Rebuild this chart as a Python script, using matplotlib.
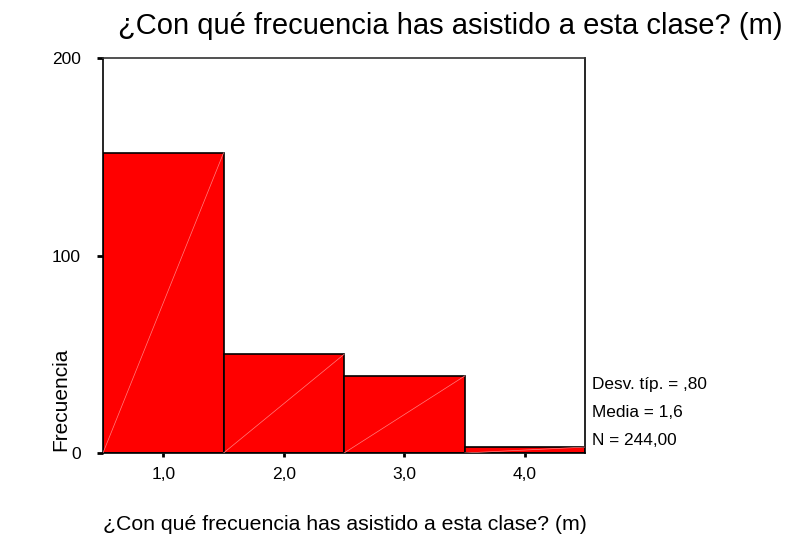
import numpy as np
import matplotlib.pyplot as plt

plt.rcParams['font.family'] = ['Liberation Sans', 'DejaVu Sans']

# datos del histograma
categorias = [1, 2, 3, 4]
frecuencias = [152, 50, 39, 3]
etiquetas_x = ['1,0', '2,0', '3,0', '4,0']
ticks_y = [0, 100, 200]
estadisticos = ['Desv. típ. = ,80', 'Media = 1,6', 'N = 244,00']

titulo = '¿Con qué frecuencia has asistido a esta clase? (m)'

fig = plt.figure(figsize=(7.92, 5.38), dpi=100)
ax = fig.add_axes([0.130, 0.158, 0.609, 0.734])

ax.bar(categorias, frecuencias, width=1.0, color='#ff0000',
       edgecolor='black', linewidth=1.2, zorder=2)

# lineas diagonales tipo SPSS dentro de las barras
for c, f in zip(categorias, frecuencias):
    ax.plot([c - 0.5, c + 0.5], [0, f], color='#ff8080', linewidth=0.5, zorder=3)

ax.set_xlim(0.5, 4.5)
ax.set_ylim(0, 200)
ax.set_xticks(categorias)
ax.set_xticklabels(etiquetas_x, fontsize=12.5)
ax.set_yticks(ticks_y)
ax.set_yticklabels([str(t) for t in ticks_y], fontsize=12.5)
ax.tick_params(axis='x', length=3, width=2, pad=7)
ax.tick_params(axis='y', length=4, width=2, pad=12)

for s in ax.spines.values():
    s.set_linewidth(1.2)
    s.set_color('black')
ax.spines['top'].set_color('#333333')

fig.text(0.988, 0.952, titulo, fontsize=21, ha='right', va='center')
fig.text(0.130, 0.026, titulo, fontsize=15.3, ha='left', va='center')
fig.text(0.077, 0.258, 'Frecuencia', fontsize=15, rotation=90,
         ha='center', va='center')

for i, t in enumerate(estadisticos):
    fig.text(0.748, 0.286 - i * 0.052, t, fontsize=12.4, ha='left', va='center')

fig.savefig('out.png', dpi=100)
